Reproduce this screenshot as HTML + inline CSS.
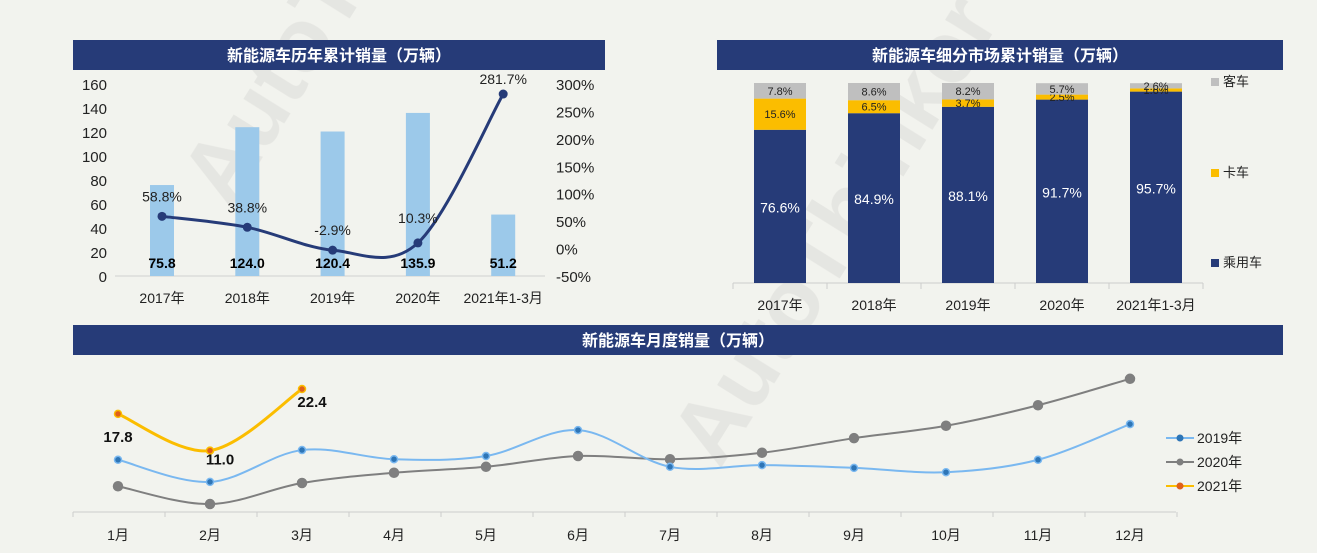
<!DOCTYPE html>
<html><head><meta charset="utf-8"><style>
body{margin:0;width:1317px;height:553px;background:#f2f3ee;overflow:hidden;font-family:"Liberation Sans","Noto Sans CJK SC",sans-serif}
svg{position:absolute;left:0;top:0}
</style></head><body>
<svg width="1317" height="553" font-family="Liberation Sans, Noto Sans CJK SC, sans-serif">
<g id="wm" opacity="0.5">
<text x="0" y="0" transform="translate(230,210) rotate(-58)" font-size="90" font-weight="bold" fill="#d9d9d6">AutoThinker</text>
<text x="0" y="0" transform="translate(720,470) rotate(-58)" font-size="90" font-weight="bold" fill="#d9d9d6">AutoThinker</text>
</g>
<rect x="73" y="40" width="532" height="30" fill="#263b78"/>
<text x="339" y="61" fill="#fff" font-size="16" font-weight="bold" text-anchor="middle">新能源车历年累计销量（万辆）</text>
<rect x="717" y="40" width="566" height="30" fill="#263b78"/>
<text x="1000" y="61" fill="#fff" font-size="16" font-weight="bold" text-anchor="middle">新能源车细分市场累计销量（万辆）</text>
<rect x="73" y="325" width="1210" height="30" fill="#263b78"/>
<text x="678" y="346" fill="#fff" font-size="16" font-weight="bold" text-anchor="middle">新能源车月度销量（万辆）</text>
<g id="c1"></g><g id="c2"></g><g id="c3"></g>
</svg>
<script>
const NS="http://www.w3.org/2000/svg";
function mk(p,t,a,txt){const e=document.createElementNS(NS,t);for(const k in a)e.setAttribute(k,a[k]);if(txt!==undefined)e.textContent=txt;p.appendChild(e);return e;}
function smooth(pts){let d=`M${pts[0][0]},${pts[0][1]}`;for(let i=0;i<pts.length-1;i++){const p0=pts[i-1]||pts[i],p1=pts[i],p2=pts[i+1],p3=pts[i+2]||p2;const c1=[p1[0]+(p2[0]-p0[0])/6,p1[1]+(p2[1]-p0[1])/6],c2=[p2[0]-(p3[0]-p1[0])/6,p2[1]-(p3[1]-p1[1])/6];d+=` C${c1[0]},${c1[1]} ${c2[0]},${c2[1]} ${p2[0]},${p2[1]}`;}return d;}

// Chart 1 data
const years=["2017年","2018年","2019年","2020年","2021年1-3月"];
const sales=[75.8,124.0,120.4,135.9,51.2];
const growth=[58.8,38.8,-2.9,10.3,281.7];
const leftTicks=[0,20,40,60,80,100,120,140,160];
const rightTicks=[-50,0,50,100,150,200,250,300];

// Chart 2 data
const segYears=["2017年","2018年","2019年","2020年","2021年1-3月"];
const passenger=[76.6,84.9,88.1,91.7,95.7];
const truck=[15.6,6.5,3.7,2.5,1.6];
const bus=[7.8,8.6,8.2,5.7,2.6];

// Chart 3 data
const months=["1月","2月","3月","4月","5月","6月","7月","8月","9月","10月","11月","12月"];
const s2019=[9.3,5.2,11.1,9.4,10,14.8,8.0,8.3,7.8,7.0,9.3,15.9];
const s2020=[4.4,1.1,5.0,6.9,8.0,10.0,9.4,10.6,13.3,15.6,19.4,24.3];
const s2021=[17.8,11.0,22.4];

// ---- chart 1
(function(){
const g=document.getElementById('c1');
const y=v=>276-v*1.2, yr=v=>276-(v+50)*192/350, x=i=>162+i*85.3;
leftTicks.forEach(t=>{const e=mk(g,'text',{x:107,y:y(t)+6,'font-size':15,'text-anchor':'end',fill:'#222'},t);

});
rightTicks.forEach(t=>{const e=mk(g,'text',{x:556,y:yr(t)+6,'font-size':15,fill:'#222'},t+'%');

});
mk(g,'line',{x1:115,x2:545,y1:276,y2:276,stroke:'#d0d0d0'});
sales.forEach((v,i)=>{const b=mk(g,'rect',{x:x(i)-12,y:y(v),width:24,height:v*1.2,fill:'#9cc9ea'});


const t=mk(g,'text',{x:x(i),y:268,'font-size':14,'font-weight':'bold','text-anchor':'middle',fill:'#000'},v.toFixed(1));


const c=mk(g,'text',{x:x(i),y:303,'font-size':14,'text-anchor':'middle',fill:'#222'},years[i]);

});
const pts=growth.map((v,i)=>[x(i),yr(v)]);
const l=mk(g,'path',{d:smooth(pts),fill:'none',stroke:'#263b78','stroke-width':3});


pts.forEach((p,i)=>{const c=mk(g,'circle',{cx:p[0],cy:p[1],r:4.5,fill:'#263b78'});


const t=mk(g,'text',{x:p[0],y:p[1]-(i==4?10:i==3?20:15),'font-size':14,'text-anchor':'middle',fill:'#222'},growth[i].toFixed(1)+'%');

});
})();

// ---- chart 2
(function(){
const g=document.getElementById('c2');
const base=283,H=200,x=i=>780+i*94;
mk(g,'line',{x1:733,x2:1203,y1:base,y2:base,stroke:'#ccc'});
for(let i=0;i<=5;i++)mk(g,'line',{x1:733+i*94,x2:733+i*94,y1:base,y2:base+6,stroke:'#ccc'});
segYears.forEach((yr,i)=>{
let y0=base;
[[passenger,'#263b78','#fff','passenger-segment',14],[truck,'#fbbd00','#222','truck-segment',11],[bus,'#bfbfbf','#222','bus-segment',11]].forEach(([arr,col,tc,name,fs])=>{
const h=arr[i]*H/100;y0-=h;
const r=mk(g,'rect',{x:x(i)-26,y:y0,width:52,height:h,fill:col});


const ty=name=='passenger-segment'?y0+h/2+6:y0+h/2+4;
const t=mk(g,'text',{x:x(i),y:Math.max(ty,0),'font-size':fs,'text-anchor':'middle',fill:tc},arr[i].toFixed(1)+'%');

});
const c=mk(g,'text',{x:x(i),y:310,'font-size':14,'text-anchor':'middle',fill:'#222'},yr);

});
[['客车','#bfbfbf',86],['卡车','#fbbd00',177],['乘用车','#263b78',267]].forEach(([n,c,yy])=>{
const r=mk(g,'rect',{x:1211,y:yy-8,width:8,height:8,fill:c});


const t=mk(g,'text',{x:1223,y:yy,'font-size':13,fill:'#222'},n);

});
})();

// ---- chart 3
(function(){
const g=document.getElementById('c3');
const x=i=>118+i*92, y=v=>510-v*5.4;
mk(g,'line',{x1:73,x2:1176,y1:512,y2:512,stroke:'#ccc'});
for(let i=0;i<=12;i++)mk(g,'line',{x1:73+i*92,x2:73+i*92,y1:512,y2:517,stroke:'#ccc'});
months.forEach((m,i)=>{const t=mk(g,'text',{x:x(i),y:540,'font-size':14,'text-anchor':'middle',fill:'#222'},m);

});
[[s2020,'#7f7f7f','#7f7f7f',2,'series-2020'],[s2019,'#7ab8f0','#2e75b6',2,'series-2019'],[s2021,'#fbbd00','#e0601a',3,'series-2021']].forEach(([arr,col,dot,w,name])=>{
const pts=arr.map((v,i)=>[x(i),y(v)]);
const l=mk(g,'path',{d:smooth(pts),fill:'none',stroke:col,'stroke-width':w});


pts.forEach(p=>{const c=mk(g,'circle',{cx:p[0],cy:p[1],r:name=='series-2020'?4.5:3.5,fill:dot,stroke:name=='series-2021'?'#fbbd00':col,'stroke-width':1.5});

});});
const off=[[0,28],[10,14],[10,18]];
s2021.forEach((v,i)=>{const t=mk(g,'text',{x:x(i)+off[i][0],y:y(v)+off[i][1],'font-size':15,'font-weight':'bold','text-anchor':'middle',fill:'#111'},v.toFixed(1));

});
[['2019年','#7ab8f0','#2e75b6',438],['2020年','#7f7f7f','#7f7f7f',462],['2021年','#fbbd00','#e0601a',486]].forEach(([n,c,d,yy])=>{
const l=mk(g,'line',{x1:1166,x2:1194,y1:yy,y2:yy,stroke:c,'stroke-width':2});


mk(g,'circle',{cx:1180,cy:yy,r:3.5,fill:d});
const t=mk(g,'text',{x:1197,y:yy+5,'font-size':14,fill:'#222'},n);

});
})();
</script>
</body></html>
